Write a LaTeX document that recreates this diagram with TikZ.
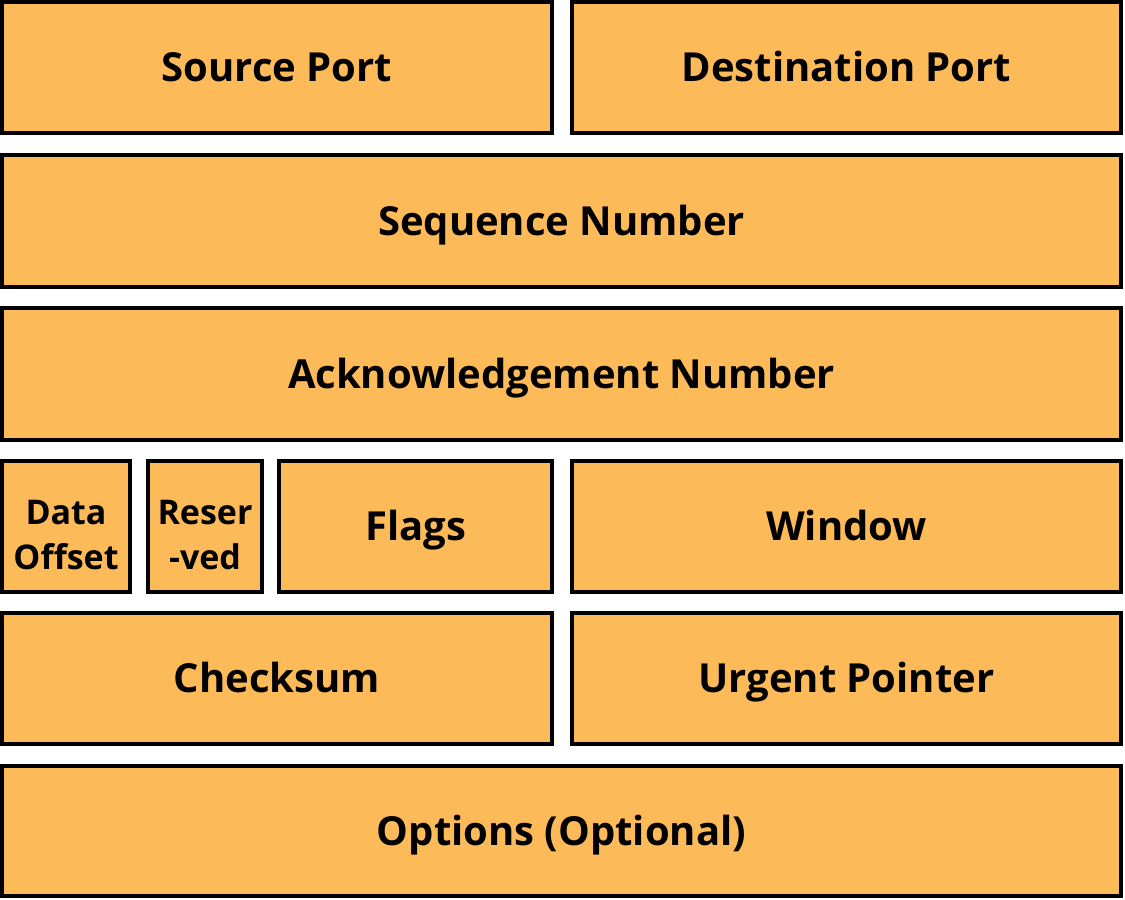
\documentclass[tikz,border=0pt]{standalone}
\usepackage{fontspec}
\setmainfont{Open Sans}
\usepackage{xcolor}
\usepackage{tikz}
\usetikzlibrary{positioning}
\definecolor{fieldorange}{HTML}{FDBA58}

\begin{document}
\begin{tikzpicture}[x=1pt, y=-1pt,
    field/.style={fill=fieldorange, draw=black, line width=4pt,
                  inner sep=0pt, align=center, text height=28.6pt, text depth=0pt,
                  font=\fontsize{40}{44}\selectfont\bfseries},
    smallfield/.style={field, text height={}, text depth={},
                       font=\fontsize{34}{45}\selectfont\bfseries}]
  \useasboundingbox (0,0) rectangle (1125,900);
  % row 1
  \node[field, minimum width=550, minimum height=131] (src) at (277,67.5) {Source Port};
  \node[field, minimum width=549, minimum height=131] (dst) at (846.5,67.5) {Destination Port};
  % rows 2 and 3
  \node[field, minimum width=1119, minimum height=132] (seq) at (561.5,221) {Sequence Number};
  \node[field, minimum width=1119, minimum height=132] (ack) at (561.5,374) {Acknowledgement Number};
  % row 4
  \node[smallfield, minimum width=128, minimum height=131] (off) at (66,526.5) {\rule{0pt}{42pt}Data\\Offset};
  \node[smallfield, minimum width=114, minimum height=131] (res) at (205,526.5) {\rule{0pt}{42pt}Reser\\-ved};
  \node[field, minimum width=273, minimum height=131] (flg) at (415.5,526.5) {Flags};
  \node[field, minimum width=549, minimum height=131] (win) at (846.5,526.5) {Window};
  % row 5
  \node[field, minimum width=550, minimum height=131] (chk) at (277,678.5) {Checksum};
  \node[field, minimum width=549, minimum height=131] (urg) at (846.5,678) {Urgent Pointer};
  % row 6
  \node[field, minimum width=1119, minimum height=130] (opt) at (561.5,831) {Options (Optional)};
\end{tikzpicture}
\end{document}
